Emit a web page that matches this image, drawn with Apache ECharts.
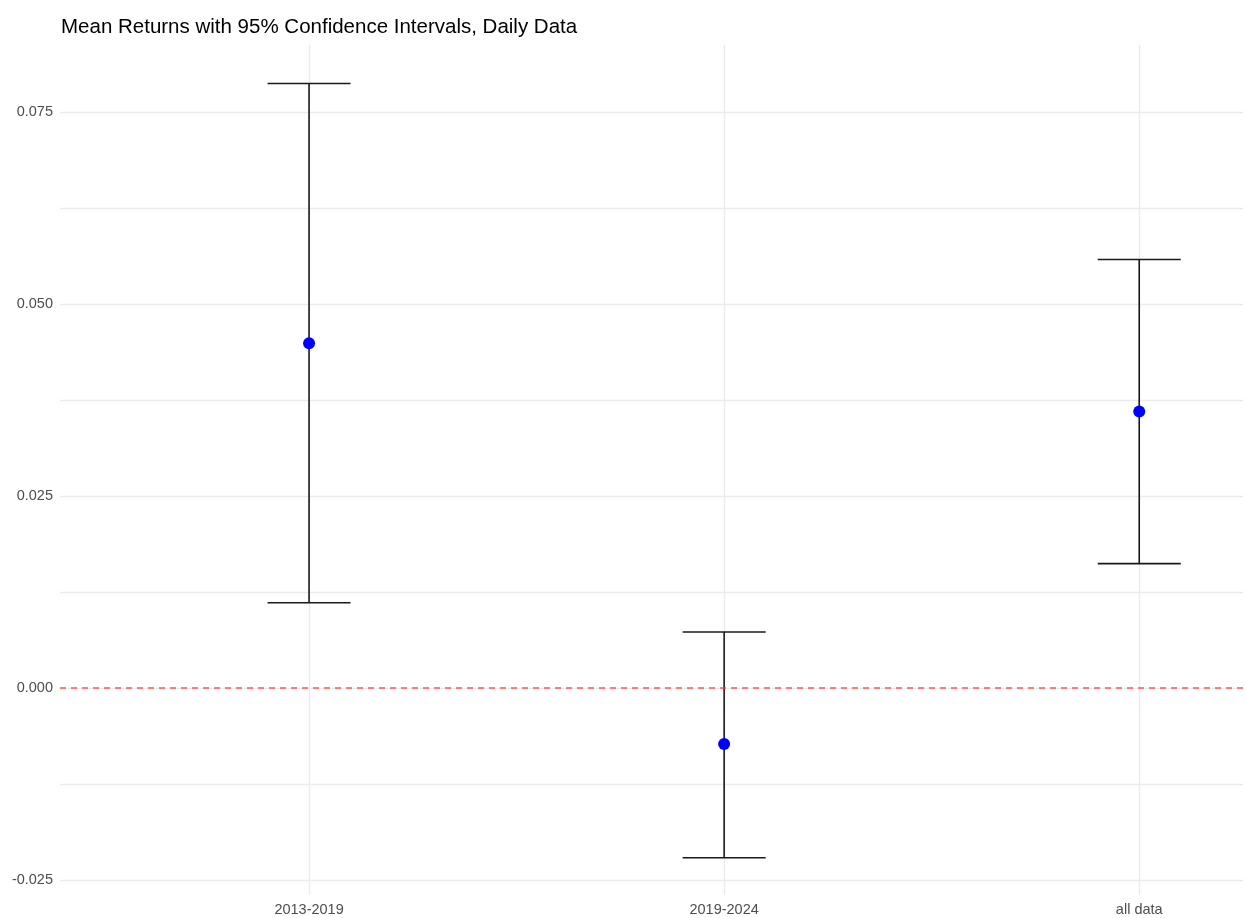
<!DOCTYPE html>
<html>
<head>
<meta charset="utf-8">
<script src="https://cdn.jsdelivr.net/npm/echarts@6/dist/echarts.min.js"></script>
<style>
  html, body { margin: 0; padding: 0; background: #fff; }
  #chart { width: 1246px; height: 918px; }
</style>
</head>
<body>
<div id="chart"></div>
<script>
// Periods and their mean daily returns with 95% confidence bounds
const periods = ['2013-2019', '2019-2024', 'all data'];
const meanReturn = [0.0449, -0.0073, 0.0360];
const lowerBound = [0.0111, -0.0221, 0.0162];
const upperBound = [0.0787, 0.0073, 0.0558];

// Axis ticks
const yMajorTicks = [-0.025, 0, 0.025, 0.05, 0.075];
const yMinorTicks = [-0.0125, 0.0125, 0.0375, 0.0625];
const xPositions = [1, 2, 3];

const FONT = '"Liberation Sans", Arial, sans-serif';
const GRID_COLOR = '#ebebeb';
const CAP_HALF = 0.1; // half width of the error-bar caps, in x units

const errorData = periods.map((p, i) => [xPositions[i], lowerBound[i], upperBound[i]]);
const pointData = periods.map((p, i) => [xPositions[i], meanReturn[i]]);

const chart = echarts.init(document.getElementById('chart'), null, { renderer: 'canvas' });

chart.setOption({
  backgroundColor: '#ffffff',
  animation: false,
  title: {
    text: 'Mean Returns with 95% Confidence Intervals, Daily Data',
    left: 56,
    top: 12,
    textStyle: { fontFamily: FONT, fontSize: 20.5, fontWeight: 'normal', color: '#000' }
  },
  grid: { left: 60, right: 3, top: 45, bottom: 23, containLabel: false },
  xAxis: {
    type: 'value',
    min: 0.4,
    max: 3.25,
    axisLine: { show: false },
    axisTick: { show: false, customValues: xPositions },
    axisLabel: {
      customValues: xPositions,
      formatter: v => periods[Math.round(v) - 1] || '',
      fontFamily: FONT, fontSize: 14.5, color: '#4d4d4d', margin: 7
    },
    splitLine: { show: true, lineStyle: { color: GRID_COLOR, width: 1.4 } }
  },
  yAxis: {
    type: 'value',
    min: -0.02695,
    max: 0.08372,
    axisLine: { show: false },
    axisTick: { show: false, customValues: yMajorTicks.concat(yMinorTicks) },
    axisLabel: {
      customValues: yMajorTicks,
      formatter: v => v.toFixed(3),
      fontFamily: FONT, fontSize: 14.5, color: '#4d4d4d', margin: 7
    },
    splitLine: { show: true, lineStyle: { color: GRID_COLOR, width: 1.3 } }
  },
  series: [
    {
      name: 'zero',
      type: 'line',
      data: [],
      silent: true,
      markLine: {
        silent: true,
        symbol: 'none',
        label: { show: false },
        lineStyle: { color: '#ff3b3b', type: [6, 5], width: 1.5, opacity: 0.85 },
        data: [{ yAxis: 0 }]
      }
    },
    {
      name: 'CI',
      type: 'custom',
      data: errorData,
      silent: true,
      renderItem: (params, api) => {
        const x = api.value(0);
        const lo = api.value(1);
        const hi = api.value(2);
        const pLo = api.coord([x, lo]);
        const pHi = api.coord([x, hi]);
        const capL = api.coord([x - CAP_HALF, lo])[0];
        const capR = api.coord([x + CAP_HALF, lo])[0];
        const style = { stroke: '#1a1a1a', lineWidth: 1.6 };
        return {
          type: 'group',
          children: [
            { type: 'line', shape: { x1: pLo[0], y1: pLo[1], x2: pHi[0], y2: pHi[1] }, style },
            { type: 'line', shape: { x1: capL, y1: pHi[1], x2: capR, y2: pHi[1] }, style },
            { type: 'line', shape: { x1: capL, y1: pLo[1], x2: capR, y2: pLo[1] }, style }
          ]
        };
      },
      z: 3
    },
    {
      name: 'Mean',
      type: 'scatter',
      data: pointData,
      symbol: 'circle',
      symbolSize: 12,
      itemStyle: { color: '#0000ff', opacity: 1 },
      silent: true,
      z: 4
    }
  ]
});
</script>
</body>
</html>
